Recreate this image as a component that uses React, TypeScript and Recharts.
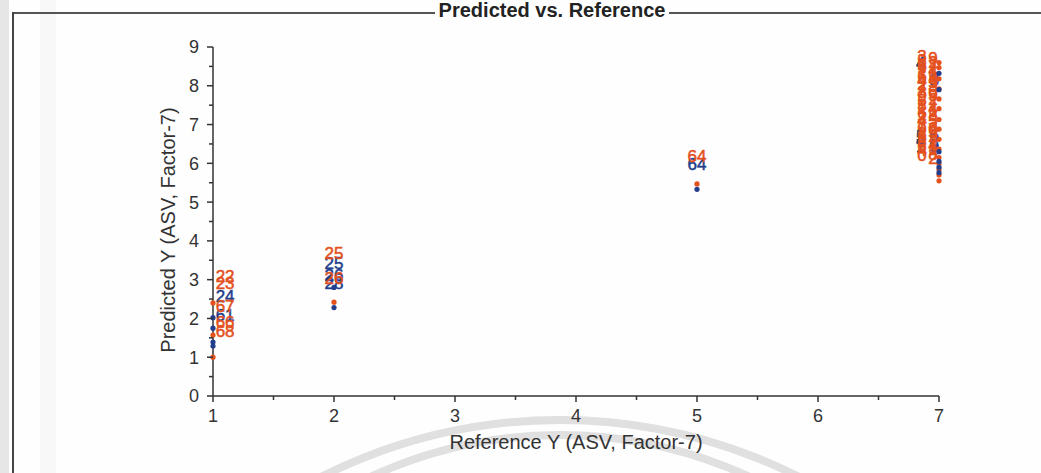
import React from 'react'
import { ScatterChart, Scatter, XAxis, YAxis } from 'recharts'

// calibration samples are blue, validation samples are orange
const CAL = '#223e8c'
const VAL = '#e4511d'
const AXIS = '#333333'
const FONT = '"Liberation Sans", Arial, sans-serif'

const xTicks = [1, 1.5, 2, 2.5, 3, 3.5, 4, 4.5, 5, 5.5, 6, 6.5, 7]
const yTicks = [0, 0.5, 1, 1.5, 2, 2.5, 3, 3.5, 4, 4.5, 5, 5.5, 6, 6.5, 7, 7.5, 8, 8.5, 9]

// named samples (drawn as their sample number)
const calLabelRef = [1.1, 1.1, 2, 2, 2, 5, 6.85, 6.85, 6.85, 6.85, 6.96, 6.96, 6.96, 6.96]
const calLabelPred = [2.58, 2.08, 3.43, 3.12, 2.93, 5.98, 8.6, 6.72, 6.6, 6.45, 8.15, 6.74, 6.6, 6.45]
const calLabelName = ['24', '61', '25', '26', '28', '64', '4', '5', '4', '1', '3', '6', '2', '9']

const valLabelRef = [
  1.1, 1.1, 1.1, 1.1, 1.1, 2, 2, 5,
  6.86, 6.86, 6.86, 6.86, 6.86, 6.86, 6.86, 6.86, 6.86, 6.86, 6.86, 6.86, 6.86,
  6.86, 6.86, 6.86, 6.86, 6.86, 6.86, 6.86, 6.86, 6.86, 6.86, 6.86, 6.86,
  6.95, 6.95, 6.95, 6.95, 6.95, 6.95, 6.95, 6.95, 6.95, 6.95, 6.95, 6.95, 6.95,
  6.95, 6.95, 6.95, 6.95, 6.95, 6.95, 6.95, 6.95, 6.95, 6.95, 6.95, 6.95,
]
const valLabelPred = [
  3.1, 2.92, 2.33, 1.9, 1.68, 3.7, 3.05, 6.19,
  8.76, 8.66, 8.55, 8.46, 8.35, 8.25, 8.16, 8.04, 7.94, 7.85, 7.73, 7.63, 7.52,
  7.43, 7.31, 7.21, 7.12, 7.0, 6.9, 6.79, 6.68, 6.57, 6.46, 6.34, 6.21,
  8.72, 8.61, 8.52, 8.4, 8.31, 8.2, 8.09, 7.99, 7.88, 7.77, 7.67, 7.56, 7.44,
  7.35, 7.24, 7.13, 7.01, 6.92, 6.8, 6.7, 6.58, 6.47, 6.37, 6.25, 6.13,
]
const valLabelName = [
  '22', '23', '67', '66', '68', '25', '26', '64',
  '3', '8', '5', '9', '1', '6', '4', '2', '7', '3', '9', '5', '8',
  '1', '6', '2', '4', '7', '9', '3', '5', '8', '6', '4', '0',
  '9', '2', '7', '4', '1', '8', '5', '3', '6', '9', '2', '7', '4',
  '1', '8', '5', '3', '6', '9', '2', '7', '4', '1', '8', '2',
]

// unnamed samples (drawn as dots)
const calDotRef = [1, 1, 1, 1, 2, 2, 5, 7, 7, 7, 7, 7, 7]
const calDotPred = [2.02, 1.75, 1.39, 1.29, 2.8, 2.28, 5.33, 8.32, 7.9, 6.3, 6.05, 5.9, 5.76]
const valDotRef = [1, 1, 1, 2, 5, 7, 7, 7, 7, 7, 7, 7, 7, 7, 7, 7, 7, 7, 7, 7]
const valDotPred = [
  2.4, 1.57, 1.0, 2.42, 5.47,
  8.6, 8.47, 8.18, 7.92, 7.66, 7.41, 7.13, 6.88, 6.62, 6.37, 6.15, 5.99, 5.84, 5.7, 5.55,
]

const calLabels = calLabelRef.map((x, i) => ({ x, y: calLabelPred[i], name: calLabelName[i] }))
const valLabels = valLabelRef.map((x, i) => ({ x, y: valLabelPred[i], name: valLabelName[i] }))
const calDots = calDotRef.map((x, i) => ({ x, y: calDotPred[i], name: '' }))
const valDots = valDotRef.map((x, i) => ({ x, y: valDotPred[i], name: '' }))

// plot area in page pixels
const PLOT_LEFT = 213
const PLOT_RIGHT = 939
const PLOT_TOP = 47
const PLOT_BOTTOM = 396

const sampleShape = (color: string) => (props: any) => {
  const { cx, cy, payload } = props
  if (payload && payload.name) {
    return (
      <text
        x={cx}
        y={cy}
        dy="0.36em"
        textAnchor="middle"
        fill={color}
        stroke={color}
        strokeWidth={0.5}
        fontSize={17}
        fontFamily={FONT}
      >
        {payload.name}
      </text>
    )
  }
  return <circle cx={cx} cy={cy} r={2.6} fill={color} />
}

const XTick = (props: any) => {
  const { x, y, payload } = props
  const major = Number.isInteger(payload.value)
  return (
    <g>
      <line x1={x} y1={y} x2={x} y2={y + (major ? 6 : 4)} stroke={AXIS} strokeWidth={1.5} />
      {major && (
        <text x={x} y={y + 26} textAnchor="middle" fill={AXIS} fontSize={18} fontFamily={FONT}>
          {payload.value}
        </text>
      )}
    </g>
  )
}

const YTick = (props: any) => {
  const { x, y, payload } = props
  const major = Number.isInteger(payload.value)
  return (
    <g>
      <line x1={x} y1={y} x2={x - (major ? 6 : 4)} y2={y} stroke={AXIS} strokeWidth={1.5} />
      {major && (
        <text x={x - 14} y={y} dy="0.36em" textAnchor="end" fill={AXIS} fontSize={18} fontFamily={FONT}>
          {payload.value}
        </text>
      )}
    </g>
  )
}

const xTitle = () => (
  <text x={(PLOT_LEFT + PLOT_RIGHT) / 2} y={449} textAnchor="middle" fill={AXIS} fontSize={20} fontFamily={FONT}>
    Reference Y (ASV, Factor-7)
  </text>
)

const yTitle = () => (
  <text
    x={168}
    y={230}
    dy="0.36em"
    textAnchor="middle"
    transform="rotate(-90 168 230)"
    fill={AXIS}
    fontSize={20}
    fontFamily={FONT}
  >
    Predicted Y (ASV, Factor-7)
  </text>
)

export default function App() {
  return (
    <div
      style={{
        position: 'absolute',
        left: 0,
        top: 0,
        width: 1041,
        height: 473,
        overflow: 'hidden',
        background: '#fefefe',
      }}
    >
      {/* faint scan strip and watermark arcs */}
      <svg width={1041} height={473} style={{ position: 'absolute', left: 0, top: 0 }}>
        <rect x={0} y={0} width={9} height={473} fill="#e6e6e6" />
        <rect x={40} y={0} width={16} height={473} fill="#f8f8f8" />
        <circle cx={560} cy={950} r={530} fill="none" stroke="#e0e0e0" strokeWidth={8} />
        <circle cx={560} cy={885} r={450} fill="none" stroke="#e0e0e0" strokeWidth={8} />
      </svg>

      <div style={{ position: 'absolute', left: 0, top: 0 }}>
        <ScatterChart
          width={1041}
          height={473}
          margin={{ top: PLOT_TOP, right: 1041 - PLOT_RIGHT, bottom: 473 - PLOT_BOTTOM - 40, left: PLOT_LEFT - 60 }}
        >
          <XAxis
            type="number"
            dataKey="x"
            domain={[1, 7]}
            ticks={xTicks}
            interval={0}
            tickSize={0}
            tickMargin={0}
            tick={(p: any) => <XTick {...p} />}
            axisLine={{ stroke: AXIS, strokeWidth: 1.5 }}
            height={40}
            label={xTitle}
          />
          <YAxis
            type="number"
            dataKey="y"
            domain={[0, 9]}
            ticks={yTicks}
            interval={0}
            tickSize={0}
            tickMargin={0}
            tick={(p: any) => <YTick {...p} />}
            axisLine={{ stroke: AXIS, strokeWidth: 1.5 }}
            width={60}
            label={yTitle}
          />
          <Scatter data={calLabels} shape={sampleShape(CAL)} isAnimationActive={false} />
          <Scatter data={valLabels} shape={sampleShape(VAL)} isAnimationActive={false} />
          <Scatter data={valDots} shape={sampleShape(VAL)} isAnimationActive={false} />
          <Scatter data={calDots} shape={sampleShape(CAL)} isAnimationActive={false} />
        </ScatterChart>
      </div>

      {/* outer frame and title */}
      <div style={{ position: 'absolute', left: 12, top: 12, width: 1041, height: 2, background: '#555' }} />
      <div style={{ position: 'absolute', left: 12, top: 12, width: 2, height: 473, background: '#444' }} />
      <div
        style={{
          position: 'absolute',
          left: 0,
          top: 0,
          width: 1104,
          textAlign: 'center',
          fontFamily: FONT,
          fontWeight: 'bold',
          fontSize: 20,
          lineHeight: '20px',
          color: '#222',
        }}
      >
        <span style={{ background: '#fefefe', padding: '0 4px' }}>Predicted vs. Reference</span>
      </div>
    </div>
  )
}
